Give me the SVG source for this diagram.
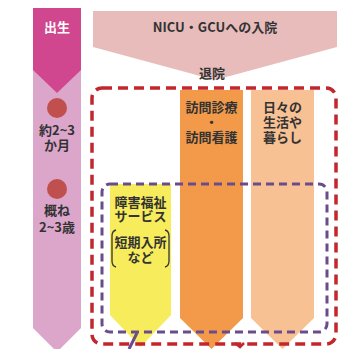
<svg xmlns="http://www.w3.org/2000/svg" width="338" height="349" viewBox="0 0 338 349">
<style>
text{font-family:"Noto Sans CJK JP","Noto Sans CJK SC",sans-serif;font-weight:bold;font-size:13px;fill:#333;text-anchor:middle}
.w{fill:#fff}
.red{fill:none;stroke:#c1272d;stroke-width:3.5;stroke-dasharray:10 6}
.pur{fill:none;stroke:#6a4c8c;stroke-width:3;stroke-dasharray:8 5}
.dot{fill:#c0504d}
</style>
<rect width="338" height="349" fill="#fff"/>
<g id="timeline">
<polygon points="33,70 81,70 81,328 57,352 33,328" fill="#dca6cb"/>
<polygon points="33,8 81,8 81,70 57,93 33,70" fill="#d0478f"/>
<text class="w" x="57" y="32">出生</text>
<circle class="dot" cx="57" cy="108" r="10"/>
<text x="57" y="135">約2~3</text>
<text x="57" y="150">か月</text>
<circle class="dot" cx="57" cy="189" r="10"/>
<text x="57" y="215">概ね</text>
<text x="57" y="232">2~3歳</text>
</g>
<g id="nicu">
<polygon points="93,11 337,11 337,47 215,80 93,47" fill="#e8bcbb"/>
<text x="215" y="32">NICU・GCUへの入院</text>
<text x="212" y="78">退院</text>
</g>
<g id="visit">
<polygon points="180,90 243,90 243,318 211.5,349 180,318" fill="#f29a4a"/>
<text x="211.5" y="112">訪問診療</text>
<text x="211.5" y="127">・</text>
<text x="211.5" y="142">訪問看護</text>
</g>
<g id="daily">
<polygon points="251,90 314,90 314,318 282.5,349 251,318" fill="#f8c193"/>
<text x="282.5" y="112">日々の</text>
<text x="282.5" y="127">生活や</text>
<text x="282.5" y="142">暮らし</text>
</g>
<g id="welfare">
<polygon points="110,184 171,184 171,315 140.5,347 110,315" fill="#f7ec5b"/>
<text x="140.5" y="207">障害福祉</text>
<text x="140.5" y="221">サービス</text>
<text x="140.5" y="247">短期入所</text>
<text x="140.5" y="262">など</text>
<path d="M116,230 Q112,231 112,236 L112,261 Q112,266 116,267" fill="none" stroke="#333" stroke-width="1.3"/>
<path d="M165,230 Q169,231 169,236 L169,261 Q169,266 165,267" fill="none" stroke="#333" stroke-width="1.3"/>
</g>
<g id="connectors">
<rect class="pur" x="102" y="184" width="225" height="148" rx="8"/>
<rect class="red" x="92" y="88" width="244" height="256" rx="10"/>
<line x1="137" y1="333" x2="129" y2="349" stroke="#6a4c8c" stroke-width="3"/>
<polyline points="235,343 240,347 244,343" fill="none" stroke="#c1272d" stroke-width="2.5"/>
</g>
</svg>
